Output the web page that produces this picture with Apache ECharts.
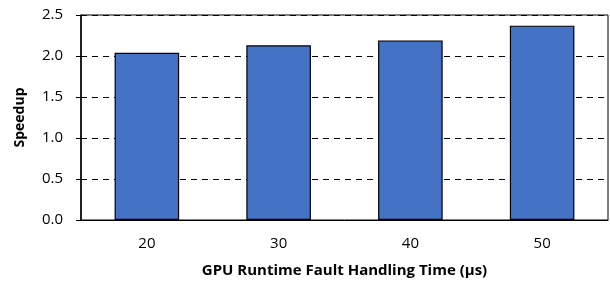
<!DOCTYPE html>
<html>
<head>
<meta charset="utf-8">
<script src="https://cdn.jsdelivr.net/npm/echarts@6/dist/echarts.min.js"></script>
<style>
  html, body { margin: 0; padding: 0; background: #fff; }
  #chart { width: 610px; height: 286px; }
</style>
</head>
<body>
<div id="chart"></div>
<script>
// Handling times (µs) on the x axis
const handlingTimes = ['20', '30', '40', '50']
// Speedup per handling time
const speedups = [2.04, 2.13, 2.19, 2.37]
// Y axis range
const yMin = 0
const yMax = 2.5
const yStep = 0.5

const chart = echarts.init(document.getElementById('chart'))
const font = '"Open Sans", sans-serif'

chart.setOption({
  animation: false,
  grid: {
    left: 81,
    right: 2,
    top: 15,
    bottom: 66,
    show: true,
    borderColor: '#000',
    borderWidth: 1
  },
  xAxis: {
    type: 'category',
    data: handlingTimes,
    name: 'GPU Runtime Fault Handling Time (µs)',
    nameLocation: 'middle',
    nameGap: 43,
    nameTextStyle: { fontFamily: font, fontSize: 15, fontWeight: 'bold', color: '#000' },
    axisLine: { lineStyle: { color: '#000', width: 1 } },
    axisTick: { show: false },
    axisLabel: { fontFamily: font, fontSize: 15, color: '#000', margin: 16 }
  },
  yAxis: {
    type: 'value',
    min: yMin,
    max: yMax,
    interval: yStep,
    name: 'Speedup',
    nameLocation: 'middle',
    nameGap: 54,
    nameTextStyle: { fontFamily: font, fontSize: 14, fontWeight: 'bold', color: '#000' },
    axisLine: { show: true, lineStyle: { color: '#000', width: 1.5 } },
    axisTick: { show: true, length: 5, lineStyle: { color: '#000', width: 1 } },
    axisLabel: {
      fontFamily: font,
      fontSize: 15,
      color: '#000',
      margin: 18,
      formatter: (v) => v.toFixed(1)
    },
    splitLine: { lineStyle: { color: '#000', type: [6, 5], width: 1 } }
  },
  series: [
    {
      type: 'bar',
      data: speedups,
      barWidth: '49%',
      itemStyle: { color: '#4472C4', borderColor: '#000', borderWidth: 1.2 }
    }
  ]
})
</script>
</body>
</html>
